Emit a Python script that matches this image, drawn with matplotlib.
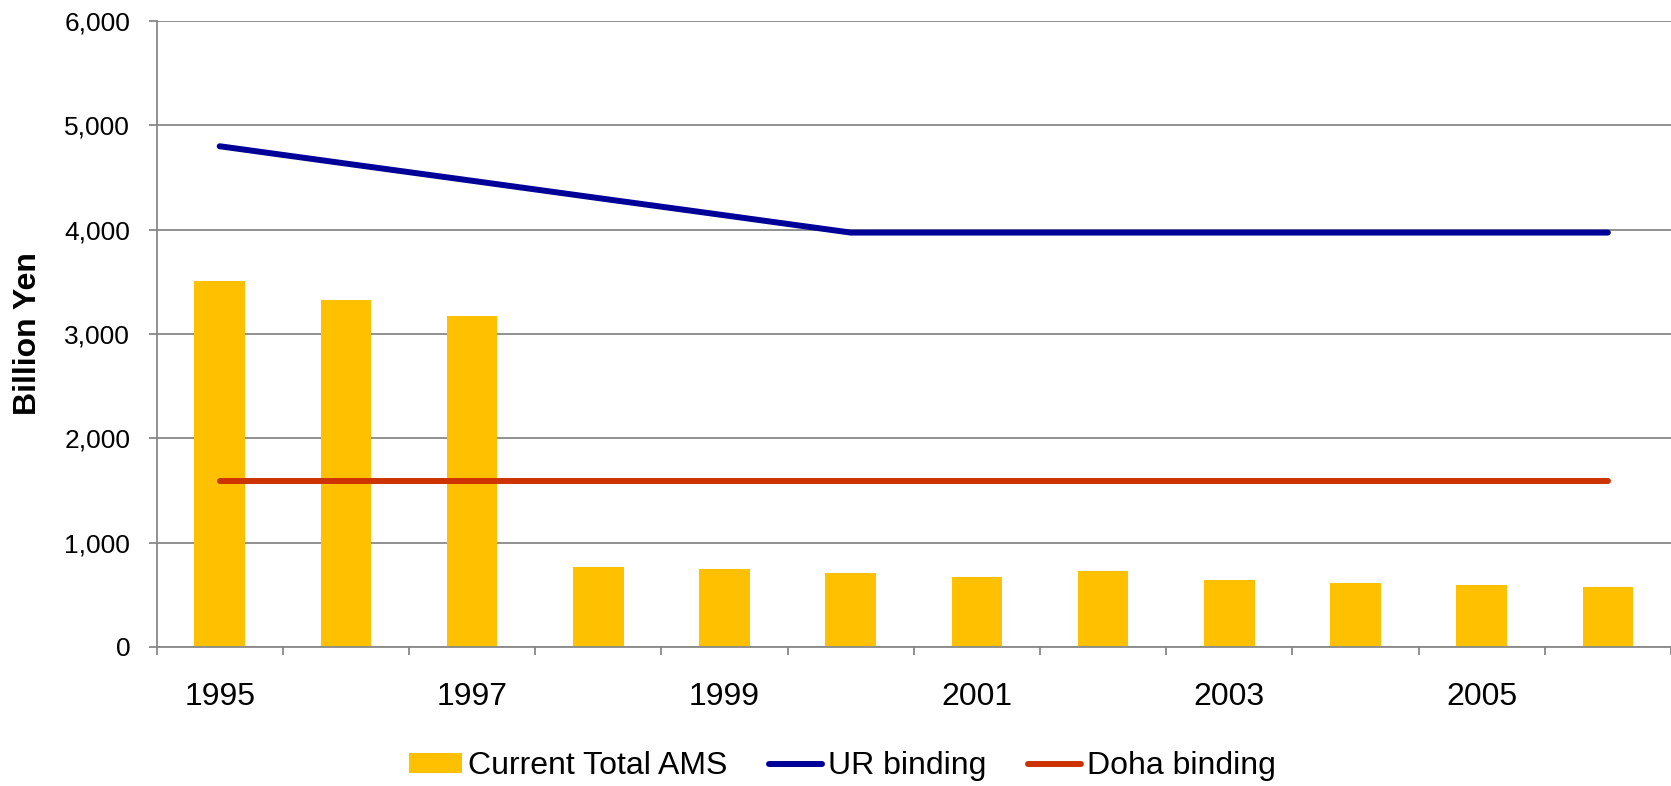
import numpy as np
import matplotlib.pyplot as plt
from matplotlib.ticker import FuncFormatter, FixedLocator

plt.rcParams['font.family'] = ['Liberation Sans', 'DejaVu Sans']

# Data (billion yen)
years = [1995, 1996, 1997, 1998, 1999, 2000, 2001, 2002, 2003, 2004, 2005, 2006]
current_ams = [3510, 3330, 3175, 765, 750, 710, 670, 730, 640, 610, 595, 575]
ur_binding = [4801, 4635, 4470, 4304, 4139, 3973, 3973, 3973, 3973, 3973, 3973, 3973]
doha_binding = [1590, 1590, 1590, 1590, 1590, 1590, 1590, 1590, 1590, 1590, 1590, 1590]

grid_col = '#888888'

fig = plt.figure(figsize=(16.71, 7.86), dpi=100)
ax = fig.add_axes([0.0937, 0.177, 0.9063, 0.796])

x = np.arange(len(years))
bars = ax.bar(x, current_ams, width=0.4, color='#FFC000', zorder=2, label='Current Total AMS')
ur_line, = ax.plot(x, ur_binding, color='#000099', lw=4.3, solid_capstyle='round', zorder=3, label='UR binding')
doha_line, = ax.plot(x, doha_binding, color='#CC3300', lw=4.3, solid_capstyle='round', zorder=3, label='Doha binding')

ax.set_xlim(-0.5, len(years) - 0.5)
ax.set_ylim(0, 6000)
ax.set_yticks(np.arange(0, 6001, 1000))
ax.yaxis.set_major_formatter(FuncFormatter(lambda v, p: f'{int(v):,}'))
ax.yaxis.grid(True, color=grid_col, lw=1.3)
ax.set_axisbelow(True)

# labels on every other year, tick marks at category boundaries
ax.set_xticks(x[::2])
ax.set_xticklabels([str(y) for y in years[::2]])
ax.xaxis.set_minor_locator(FixedLocator(np.arange(-0.5, len(years), 1.0)))
ax.tick_params(axis='x', which='major', length=0, pad=25, labelsize=23)
ax.tick_params(axis='x', which='minor', length=6, width=1.3, color=grid_col)
ax.tick_params(axis='y', length=6, width=1.3, color=grid_col, pad=13, labelsize=19)

for s in ['top', 'right']:
    ax.spines[s].set_visible(False)
for s in ['left', 'bottom']:
    ax.spines[s].set_color(grid_col)
    ax.spines[s].set_linewidth(1.3)

ax.set_ylabel('Billion Yen', fontsize=23, fontweight='bold')
ax.yaxis.set_label_coords(-0.075, 0.5)

fig.legend(handles=[bars, ur_line, doha_line], loc='center', bbox_to_anchor=(0.504, 0.025),
           ncol=3, frameon=False, fontsize=23, handlelength=1.66, handletextpad=0.19,
           columnspacing=1.3, handleheight=0.55)

fig.savefig('out.png', dpi=100)
